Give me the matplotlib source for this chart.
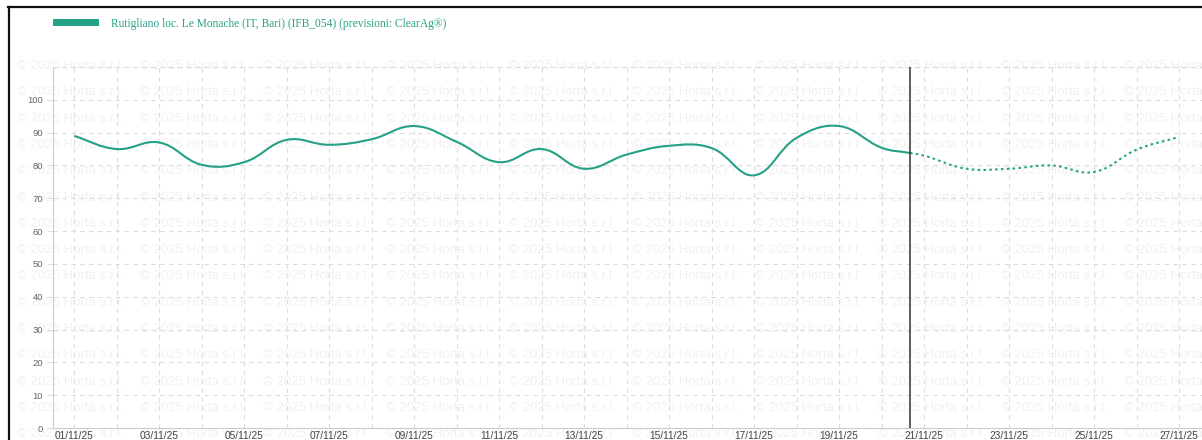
import matplotlib
matplotlib.use('Agg')
import matplotlib.pyplot as plt
import numpy as np
from matplotlib.path import Path
from matplotlib.patches import PathPatch, Rectangle
from matplotlib.lines import Line2D

# Dati (giorni dal 01/11/25)
obs_days = [0, 1, 2, 3, 4, 5, 6, 7, 8, 9, 10, 11, 12, 13, 14, 15, 16, 17, 18, 19, 19.67]
obs_vals = [89, 85, 87, 80.2, 81, 87.8, 86.3, 88, 92, 87.2, 81, 85, 79, 83.3, 86, 85.3,
            77, 88.4, 92, 85.4, 83.8]
fc_days = [19.67, 20, 21, 22, 23, 24, 25, 26]
fc_vals = [83.8, 83, 79, 79, 80, 78, 84.8, 88.7]
now_day = 19.67

tick_days = [0, 2, 4, 6, 8, 10, 12, 14, 16, 18, 20, 22, 24, 26]
tick_labels = ['01/11/25', '03/11/25', '05/11/25', '07/11/25', '09/11/25', '11/11/25',
               '13/11/25', '15/11/25', '17/11/25', '19/11/25', '21/11/25', '23/11/25',
               '25/11/25', '27/11/25']
legend_label = 'Rutigliano loc. Le Monache (IT, Bari) (IFB_054) (previsioni: ClearAg®)'
watermark = '© 2025 Horta s.r.l.'

teal = '#25a187'
W, H = 1202, 440


def spline_path(xs, ys, t=0.4, sx=42.5, sy=3.28):
    # curva tipo Chart.js (tension 0.4) con Bezier cubiche
    x = np.asarray(xs, float)
    y = np.asarray(ys, float)
    n = len(x)
    prev_c, next_c = [], []
    for i in range(n):
        a = max(i - 1, 0)
        b = min(i + 1, n - 1)
        d01 = np.hypot((x[i] - x[a]) * sx, (y[i] - y[a]) * sy)
        d12 = np.hypot((x[b] - x[i]) * sx, (y[b] - y[i]) * sy)
        tot = d01 + d12
        s01 = d01 / tot if tot else 0
        s12 = d12 / tot if tot else 0
        dx, dy = x[b] - x[a], y[b] - y[a]
        prev_c.append((x[i] - t * s01 * dx, y[i] - t * s01 * dy))
        next_c.append((x[i] + t * s12 * dx, y[i] + t * s12 * dy))
    verts = [(x[0], y[0])]
    codes = [Path.MOVETO]
    for i in range(n - 1):
        verts += [next_c[i], prev_c[i + 1], (x[i + 1], y[i + 1])]
        codes += [Path.CURVE4] * 3
    return Path(verts, codes)


fig = plt.figure(figsize=(W / 100, H / 100), dpi=100)
ax = fig.add_axes([53 / W, (H - 428) / H, (W - 53) / W, (428 - 67) / H])
ax.set_facecolor('none')

# filigrana
for r in range(15):
    for c in range(10):
        fig.text((17 + 123 * c) / W, 1 - (66 + 26.3 * r) / H, watermark,
                 fontsize=9.5, family='Liberation Sans', color='#f1f1f1',
                 ha='left', va='center', zorder=-5)

ax.set_xlim(-0.5, (W - 74) / 42.5)
ax.set_ylim(0, 110)

ax.set_xticks(np.arange(0, 27), minor=True)
ax.set_xticks(tick_days)
ax.set_xticklabels(tick_labels)
ax.set_yticks(np.arange(0, 101, 10))

ax.grid(True, which='both', axis='x', color='#dddddd', linestyle=(0, (4, 4)), linewidth=0.8)
ax.grid(True, which='major', axis='y', color='#dddddd', linestyle=(0, (4, 4)), linewidth=0.8)
ax.tick_params(axis='x', which='both', length=0, pad=2, labelsize=7.3, labelcolor='#444')
ax.tick_params(axis='y', length=4, color='#dddddd', pad=3, labelsize=6.8, labelcolor='#666')
for lab in ax.get_xticklabels() + ax.get_yticklabels():
    lab.set_family('Liberation Sans')

ax.spines['right'].set_visible(False)
ax.spines['top'].set_color('#dddddd')
ax.spines['top'].set_linestyle((0, (4, 4)))
ax.spines['top'].set_linewidth(0.8)
ax.spines['left'].set_color('#cccccc')
ax.spines['bottom'].set_color('#cccccc')

ax.add_patch(PathPatch(spline_path(obs_days, obs_vals), fill=False, edgecolor=teal,
                       linewidth=1.5, zorder=3))
ax.add_patch(PathPatch(spline_path(fc_days, fc_vals), fill=False, edgecolor=teal,
                       linewidth=1.5, linestyle=(0, (1.2, 1.6)), zorder=3))
ax.axvline(now_day, color='#333333', linewidth=1.1, zorder=4)

# legenda
fig.add_artist(Rectangle((53 / W, (H - 26) / H), 46 / W, 7 / H, transform=fig.transFigure,
                         facecolor=teal, edgecolor='none'))
fig.text(111 / W, (H - 23.5) / H, legend_label, fontsize=8.3, family='Liberation Serif',
         color=teal, ha='left', va='center')

# cornice
fig.add_artist(Line2D([8.5 / W, 8.5 / W], [0, (H - 7) / H], transform=fig.transFigure,
                      color='#111', linewidth=1.6))
fig.add_artist(Line2D([8 / W, 1], [(H - 7) / H, (H - 7) / H], transform=fig.transFigure,
                      color='#111', linewidth=1.6))

fig.savefig('out.png', dpi=100)
